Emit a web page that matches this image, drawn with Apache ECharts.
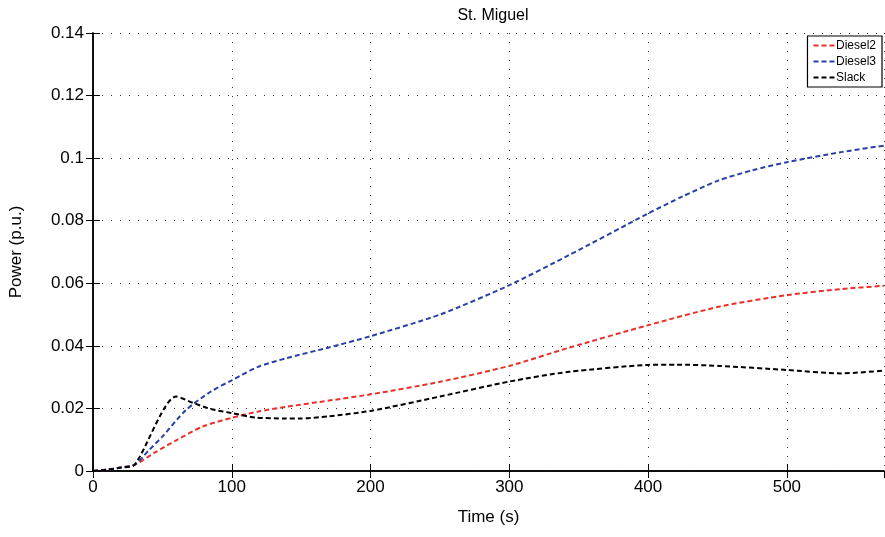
<!DOCTYPE html>
<html>
<head>
<meta charset="utf-8">
<script src="https://cdn.jsdelivr.net/npm/echarts@6/dist/echarts.min.js"></script>
<style>
html,body{margin:0;padding:0;background:#fff;}
#chart{width:885px;height:537px;}
</style>
</head>
<body>
<div id="chart"></div>
<script>
// time (s)
var timeD2 = [0, 10, 20, 30, 45, 60, 79, 100, 119, 139, 170, 200, 250, 300, 343, 400, 451, 500, 540, 570];
var diesel2 = [0, 0.0004, 0.0011, 0.002, 0.006, 0.0098, 0.0142, 0.0170, 0.0190, 0.0205, 0.0225, 0.0245, 0.0285, 0.0336, 0.0394, 0.0466, 0.0525, 0.0562, 0.0582, 0.0592];

var timeD3 = [0, 10, 20, 30, 40, 50, 67, 85, 100, 119, 139, 170, 200, 250, 300, 343, 400, 425, 451, 475, 500, 540, 570];
var diesel3 = [0, 0.0004, 0.0011, 0.002, 0.0065, 0.011, 0.0195, 0.0254, 0.029, 0.0333, 0.036, 0.0395, 0.0431, 0.0500, 0.0594, 0.0690, 0.0823, 0.0878, 0.0929, 0.0961, 0.0987, 0.1020, 0.1040];

var timeSl = [0, 10, 20, 30, 60, 72, 85, 100, 117, 139, 149, 170, 200, 250, 300, 343, 400, 420, 451, 500, 539, 570];
var slack = [0, 0.0004, 0.0011, 0.002, 0.0238, 0.0218, 0.0198, 0.0185, 0.0171, 0.0168, 0.0168, 0.0175, 0.0192, 0.0238, 0.0286, 0.0317, 0.0339, 0.0340, 0.0336, 0.0323, 0.0312, 0.0321];

var xTicks = [0, 100, 200, 300, 400, 500];
var yTicks = [0, 0.02, 0.04, 0.06, 0.08, 0.1, 0.12, 0.14];

function pairs(xs, ys){
  var out = [];
  for (var i = 0; i < xs.length; i++) out.push([xs[i], ys[i]]);
  return out;
}

var chartDom = document.getElementById('chart');
var myChart = echarts.init(chartDom);
var font = 'Liberation Sans, Arial, sans-serif';
var dashIcon = 'path://M0,0h5v2h-5z M8,0h5v2h-5z M16,0h5v2h-5z';
var option;

option = {
  animation: false,
  backgroundColor: '#fff',
  title: {
    text: 'St. Miguel',
    left: 488, top: 3, textAlign: 'center',
    textStyle: {fontFamily: font, fontSize: 16, fontWeight: 'normal', color: '#000'}
  },
  grid: {left: 92, right: 1, top: 33, bottom: 66},
  legend: {
    orient: 'vertical',
    right: 3, top: 36,
    backgroundColor: '#fff',
    borderColor: '#000', borderWidth: 1.2, borderRadius: 0,
    padding: [3, 6, 3, 6],
    itemGap: 3,
    itemWidth: 22, itemHeight: 2,
    icon: dashIcon,
    textStyle: {fontFamily: font, fontSize: 12, color: '#000', padding: [0, 0, 0, -4], lineHeight: 13},
    data: ['Diesel2', 'Diesel3', 'Slack']
  },
  xAxis: [{
    type: 'value', min: 0, max: 570, interval: 100,
    name: 'Time (s)', nameLocation: 'middle', nameGap: 38,
    nameTextStyle: {fontFamily: font, fontSize: 17, color: '#000'},
    axisLine: {show: true, lineStyle: {color: '#000', width: 1.5}},
    axisTick: {show: true, inside: true, length: 7, lineStyle: {color: '#000'}},
    axisLabel: {fontFamily: font, fontSize: 17, color: '#000', margin: 8, showMaxLabel: false},
    splitLine: {show: true, lineStyle: {color: '#333', type: [1, 8], width: 1}}
  }, {
    type: 'value', min: 0, max: 570, interval: 100, position: 'top',
    axisLine: {show: true, lineStyle: {color: '#000', width: 1.5}},
    axisTick: {show: true, inside: true, length: 7, lineStyle: {color: '#000'}},
    axisLabel: {show: false}, splitLine: {show: false}
  }],
  yAxis: [{
    type: 'value', min: 0, max: 0.14, interval: 0.02,
    name: 'Power (p.u.)', nameLocation: 'middle', nameGap: 68,
    nameTextStyle: {fontFamily: font, fontSize: 17, color: '#000'},
    axisLine: {show: true, lineStyle: {color: '#000', width: 1.5}},
    axisTick: {show: true, inside: true, length: 7, lineStyle: {color: '#000'}},
    axisLabel: {fontFamily: font, fontSize: 17, color: '#000', margin: 9,
      formatter: function (v) { return String(parseFloat(v.toFixed(2))); }},
    splitLine: {show: true, lineStyle: {color: '#333', type: [1, 8], width: 1}}
  }, {
    type: 'value', min: 0, max: 0.14, interval: 0.02, position: 'right',
    axisLine: {show: true, lineStyle: {color: '#000', width: 1.5}},
    axisTick: {show: true, inside: true, length: 7, lineStyle: {color: '#000'}},
    axisLabel: {show: false}, splitLine: {show: false}
  }],
  series: [
    {
      name: 'Diesel2', type: 'line', data: pairs(timeD2, diesel2),
      symbol: 'none', smooth: 0.25, color: '#e8312b',
      lineStyle: {color: '#e8312b', width: 2, type: [5, 3]}
    },
    {
      name: 'Diesel3', type: 'line', data: pairs(timeD3, diesel3),
      symbol: 'none', smooth: 0.25, color: '#2a3fa8',
      lineStyle: {color: '#2a3fa8', width: 2, type: [5, 3]}
    },
    {
      name: 'Slack', type: 'line', data: pairs(timeSl, slack),
      symbol: 'none', smooth: 0.25, color: '#000',
      lineStyle: {color: '#000', width: 2, type: [5, 3]}
    }
  ]
};

option && myChart.setOption(option);
</script>
</body>
</html>
